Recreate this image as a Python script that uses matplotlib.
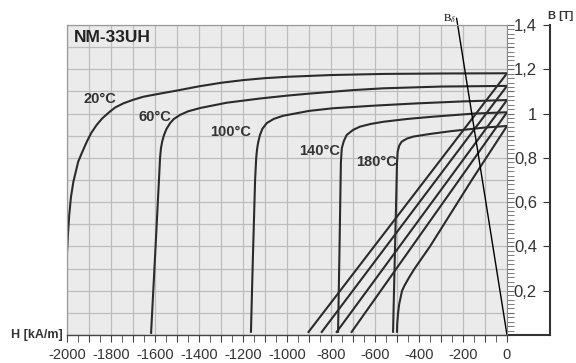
import matplotlib
matplotlib.use('Agg')
import matplotlib.pyplot as plt
from matplotlib.ticker import MultipleLocator

plt.rcParams['font.family'] = ['Liberation Sans', 'DejaVu Sans']
plt.rcParams['mathtext.fontset'] = 'stix'

# intrinsic (J) curves, H in kA/m, B in T
h_20 = [0, -300, -564, -800, -1000, -1100, -1200, -1300, -1400, -1500, -1600, -1653, -1700, -1744, -1780,
        -1805, -1840, -1865, -1890, -1910, -1930, -1949, -1971, -1982, -1990, -1996, -2000]
j_20 = [1.182, 1.181, 1.179, 1.174, 1.166, 1.160, 1.151, 1.139, 1.123, 1.104, 1.086, 1.076, 1.062, 1.046, 1.028,
        1.009, 0.978, 0.949, 0.912, 0.873, 0.828, 0.783, 0.692, 0.623, 0.54, 0.45, 0.37]
h_60 = [0, -300, -564, -700, -900, -1000, -1123, -1274, -1395, -1450, -1486, -1515, -1532, -1548, -1559, -1567,
        -1573, -1577, -1582, -1600, -1618]
j_60 = [1.125, 1.122, 1.114, 1.106, 1.090, 1.081, 1.068, 1.049, 1.025, 1.010, 0.994, 0.975, 0.956, 0.930, 0.903,
        0.875, 0.843, 0.80, 0.70, 0.35, 0.005]
h_100 = [0, -200, -410, -600, -791, -900, -1018, -1060, -1092, -1112, -1123, -1131, -1136, -1140, -1145,
         -1155, -1164]
j_100 = [1.061, 1.055, 1.046, 1.036, 1.024, 1.012, 0.990, 0.976, 0.957, 0.931, 0.903, 0.870, 0.84, 0.80,
         0.70, 0.35, 0.01]
h_140 = [0, -150, -335, -450, -562, -620, -668, -700, -729, -742, -751, -755, -758, -762, -768]
j_140 = [1.006, 1.000, 0.986, 0.976, 0.963, 0.953, 0.941, 0.926, 0.903, 0.875, 0.843, 0.78, 0.60, 0.35, 0.01]
h_180 = [0, -100, -259, -350, -426, -455, -479, -490, -497, -500, -504, -510, -518]
j_180 = [0.944, 0.937, 0.920, 0.908, 0.896, 0.887, 0.873, 0.855, 0.828, 0.78, 0.60, 0.35, 0.01]

# normal (B) curves
hb_20 = [0, -905]
b_20 = [1.182, 0.01]
hb_60 = [0, -845]
b_60 = [1.125, 0.01]
hb_100 = [0, -777]
b_100 = [1.061, 0.01]
hb_140 = [0, -709]
b_140 = [1.006, 0.01]
hb_180 = [0, -160, -350, -420, -445, -465, -477, -490, -495, -499, -500]
b_180 = [0.944, 0.70, 0.40, 0.30, 0.26, 0.225, 0.20, 0.14, 0.10, 0.05, 0.01]

# load line
h_load = [0, -229]
b_load = [0, 1.43]

temps = ['20°C', '60°C', '100°C', '140°C', '180°C']
temp_h = [-1850, -1600, -1255, -850, -595]
temp_b = [1.065, 0.984, 0.917, 0.831, 0.781]

x_ticks = list(range(-2000, 1, 100))
x_labels = [str(v) if v % 200 == 0 else '' for v in x_ticks]
y_ticks = [0.2, 0.4, 0.6, 0.8, 1.0, 1.2, 1.4]
y_labels = ['0,2', '0,4', '0,6', '0,8', '1', '1,2', '1,4']

line_color = '#2b2b2b'
text_color = '#333333'

fig = plt.figure(figsize=(5.76, 3.63), dpi=100)
ax = fig.add_axes([67 / 576, 28 / 363, 440 / 576, 310 / 363])
ax.set_facecolor('#ebebeb')
ax.set_xlim(-2000, 0)
ax.set_ylim(0, 1.4)

for h, j in [(h_20, j_20), (h_60, j_60), (h_100, j_100), (h_140, j_140), (h_180, j_180)]:
    ax.plot(h, j, color=line_color, lw=1.5, solid_capstyle='butt', solid_joinstyle='round')
for h, b in [(hb_20, b_20), (hb_60, b_60), (hb_100, b_100), (hb_140, b_140), (hb_180, b_180)]:
    ax.plot(h, b, color=line_color, lw=1.5, solid_capstyle='butt', solid_joinstyle='round')
ax.plot(h_load, b_load, color='black', lw=1.0, clip_on=False)
ax.text(h_load[1] - 32, b_load[1], r'B$_\delta$', fontsize=8, family='Liberation Serif',
        ha='center', va='center', color='black')

for t, h, b in zip(temps, temp_h, temp_b):
    ax.text(h, b, t, fontsize=10.5, fontweight='bold', color=text_color, ha='center', va='center')
ax.text(-1968, 1.344, 'NM-33UH', fontsize=12.5, fontweight='bold', color='#222222', ha='left', va='center')

# grid and ticks
ax.set_xticks(x_ticks, labels=x_labels)
ax.xaxis.set_minor_locator(MultipleLocator(50))
ax.yaxis.set_major_locator(MultipleLocator(0.1))
ax.yaxis.set_minor_locator(MultipleLocator(0.02))
ax.grid(True, which='major', color='#bdbdbd', lw=0.9)
ax.set_axisbelow(True)
ax.tick_params(axis='x', which='both', direction='out', length=5, color='#444444', pad=4.5,
               labelsize=10.5, labelcolor=text_color)
ax.yaxis.set_ticks_position('right')
ax.tick_params(axis='y', which='both', direction='out', length=5, color='#666666',
               labelright=False, labelleft=False)

for side in ['left', 'top']:
    ax.spines[side].set_color('#9a9a9a')
    ax.spines[side].set_linewidth(0.9)
ax.spines['right'].set_color('#888888')
ax.spines['right'].set_linewidth(0.8)
ax.spines['bottom'].set_color('#444444')
ax.spines['bottom'].set_linewidth(1.0)

sec = ax.secondary_yaxis(1 + 43 / 440)
sec.set_yticks(y_ticks, labels=y_labels)
sec.tick_params(direction='in', length=5, pad=-9.4, labelsize=12, labelcolor=text_color, color='#333333')
plt.setp(sec.get_yticklabels(), ha='right')
sec.spines['right'].set_color('#333333')
sec.spines['right'].set_linewidth(1.5)
ax.plot([1, 1 + 43 / 440], [0, 0], transform=ax.transAxes, color='#333333', lw=1.5, clip_on=False)

ax.text(-0.01, -0.01, 'H [kA/m]', transform=ax.transAxes, fontsize=9, fontweight='bold',
        color=text_color, ha='right', va='baseline')
ax.text(1 + 41 / 440, 1.029, 'B [T]', transform=ax.transAxes, fontsize=8, fontweight='bold',
        color=text_color, ha='left', va='center')

fig.savefig('out.png', dpi=100, facecolor='white')
